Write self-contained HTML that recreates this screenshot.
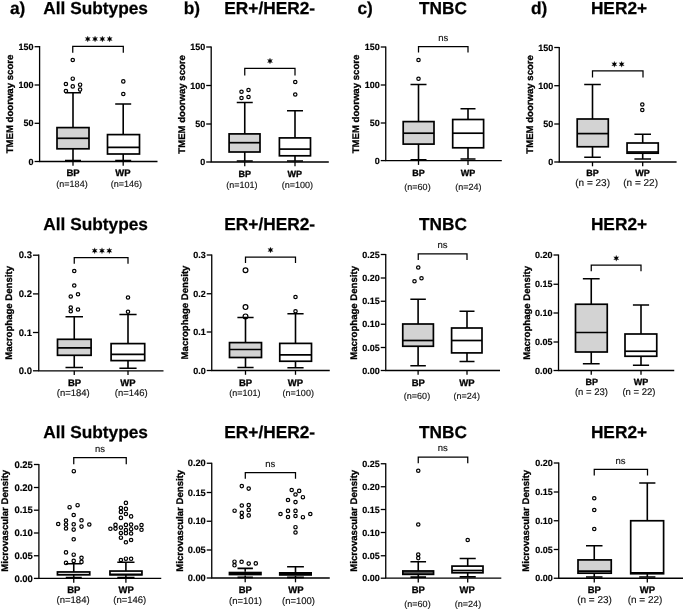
<!DOCTYPE html>
<html><head><meta charset="utf-8"><style>
html,body{margin:0;padding:0;background:#fff;}
svg{display:block;will-change:transform;}
text{font-family:"Liberation Sans", sans-serif;fill:#000;text-rendering:geometricPrecision;}
.tt{font-weight:bold;stroke:#000;stroke-width:0.25px;}
.yl,.xl{stroke:#000;stroke-width:0.3px;}
.tk{stroke:#000;stroke-width:0.15px;}
.nl,.ns{stroke:#111;stroke-width:0.15px;}
.tk{font-weight:bold;}
.yl{font-weight:bold;}
.xl{font-weight:bold;}
.nl{font-weight:normal;fill:#111;}
.ns{font-weight:normal;fill:#111;}
.ax{fill:none;stroke:#000;stroke-width:1.3;}
.wh{fill:none;stroke:#000;stroke-width:1.6;}
.bx{stroke:#000;stroke-width:1.7;}
path.bx{fill:none;}
.br{fill:none;stroke:#000;stroke-width:1.25;}
.oc{fill:none;stroke:#000;stroke-width:1.2;}
</style></head><body>
<svg width="685" height="611" viewBox="0 0 685 611">
<g id="a1"><path d="M39.6 46.1V161.5H157.5" class="ax"/><path d="M34.6 46.7H39.6" class="ax"/><text x="33.6" y="49.8" class="tk" font-size="9" text-anchor="end">150</text><path d="M34.6 85H39.6" class="ax"/><text x="33.6" y="88.11" class="tk" font-size="9" text-anchor="end">100</text><path d="M34.6 123.3H39.6" class="ax"/><text x="33.6" y="126.41" class="tk" font-size="9" text-anchor="end">50</text><path d="M34.6 161.5H39.6" class="ax"/><text x="33.6" y="164.6" class="tk" font-size="9" text-anchor="end">0</text><path d="M73 161.5v4.3" class="ax"/><path d="M123.2 161.5v4.3" class="ax"/><path d="M73 92.8V127.6M73 148.8V160.5M65 92.8H81M65 160.5H81" class="wh"/><rect x="57" y="127.6" width="32" height="21.2" fill="#d3d3d3" class="bx"/><path d="M57 138.3H89" class="bx"/><circle cx="72.75" cy="60" r="1.7" class="oc" stroke-width="1.2"/><circle cx="72.75" cy="78.7" r="1.7" class="oc" stroke-width="1.2"/><circle cx="65.9" cy="84" r="1.7" class="oc" stroke-width="1.2"/><circle cx="72.75" cy="86.4" r="1.7" class="oc" stroke-width="1.2"/><circle cx="80.1" cy="84.7" r="1.7" class="oc" stroke-width="1.2"/><circle cx="65.9" cy="91" r="1.7" class="oc" stroke-width="1.2"/><circle cx="80.1" cy="89.6" r="1.7" class="oc" stroke-width="1.2"/><path d="M123.2 104V134.6M123.2 154V160.5M115.2 104H131.2M115.2 160.5H131.2" class="wh"/><rect x="107.5" y="134.6" width="32" height="19.4" fill="#fff" class="bx"/><path d="M107.5 147.4H139.5" class="bx"/><circle cx="123.3" cy="81.4" r="1.7" class="oc" stroke-width="1.2"/><circle cx="123.3" cy="94" r="1.7" class="oc" stroke-width="1.2"/><path d="M72.75 52.8V46.35H123.3V52.8" class="br"/><g transform="translate(87.75,39)"><polygon points="0.00,-3.00 0.65,-1.13 2.60,-1.50 1.30,0.00 2.60,1.50 0.65,1.13 0.00,3.00 -0.65,1.13 -2.60,1.50 -1.30,0.00 -2.60,-1.50 -0.65,-1.13" fill="#000" stroke="#000" stroke-width="0.2" stroke-linejoin="round"/></g><g transform="translate(95.05,39)"><polygon points="0.00,-3.00 0.65,-1.13 2.60,-1.50 1.30,0.00 2.60,1.50 0.65,1.13 0.00,3.00 -0.65,1.13 -2.60,1.50 -1.30,0.00 -2.60,-1.50 -0.65,-1.13" fill="#000" stroke="#000" stroke-width="0.2" stroke-linejoin="round"/></g><g transform="translate(102.35,39)"><polygon points="0.00,-3.00 0.65,-1.13 2.60,-1.50 1.30,0.00 2.60,1.50 0.65,1.13 0.00,3.00 -0.65,1.13 -2.60,1.50 -1.30,0.00 -2.60,-1.50 -0.65,-1.13" fill="#000" stroke="#000" stroke-width="0.2" stroke-linejoin="round"/></g><g transform="translate(109.65,39)"><polygon points="0.00,-3.00 0.65,-1.13 2.60,-1.50 1.30,0.00 2.60,1.50 0.65,1.13 0.00,3.00 -0.65,1.13 -2.60,1.50 -1.30,0.00 -2.60,-1.50 -0.65,-1.13" fill="#000" stroke="#000" stroke-width="0.2" stroke-linejoin="round"/></g><text transform="translate(12.9,104) rotate(-90) scale(1,1)" class="yl" font-size="9.6" text-anchor="middle">TMEM doorway score</text><text x="73" y="176.2" class="xl" font-size="9.5" text-anchor="middle">BP</text><text x="123" y="176.2" class="xl" font-size="9.5" text-anchor="middle">WP</text><text x="72" y="186.5" class="nl" font-size="9" text-anchor="middle">(n=184)</text><text x="126.4" y="186.5" class="nl" font-size="9" text-anchor="middle">(n=146)</text></g><g id="b1"><path d="M211.2 46.4V162H328.8" class="ax"/><path d="M206.2 47H211.2" class="ax"/><text x="205.2" y="50.1" class="tk" font-size="9" text-anchor="end">150</text><path d="M206.2 85.5H211.2" class="ax"/><text x="205.2" y="88.61" class="tk" font-size="9" text-anchor="end">100</text><path d="M206.2 124H211.2" class="ax"/><text x="205.2" y="127.11" class="tk" font-size="9" text-anchor="end">50</text><path d="M206.2 162H211.2" class="ax"/><text x="205.2" y="165.1" class="tk" font-size="9" text-anchor="end">0</text><path d="M244.75 162v4.3" class="ax"/><path d="M295 162v4.3" class="ax"/><path d="M244.75 102.5V133.9M244.75 152V161M236.75 102.5H252.75M236.75 161H252.75" class="wh"/><rect x="229.1" y="133.9" width="30.9" height="18.1" fill="#d3d3d3" class="bx"/><path d="M229.1 142.7H260" class="bx"/><circle cx="241.5" cy="91.75" r="1.7" class="oc" stroke-width="1.2"/><circle cx="248.5" cy="90" r="1.7" class="oc" stroke-width="1.2"/><circle cx="241.5" cy="98" r="1.7" class="oc" stroke-width="1.2"/><circle cx="248.5" cy="97" r="1.7" class="oc" stroke-width="1.2"/><path d="M295 110.75V137.9M295 155.8V161M287 110.75H303M287 161H303" class="wh"/><rect x="279.4" y="137.9" width="31.1" height="17.9" fill="#fff" class="bx"/><path d="M279.4 149.1H310.5" class="bx"/><circle cx="295.25" cy="82" r="1.7" class="oc" stroke-width="1.2"/><circle cx="295.25" cy="94.5" r="1.7" class="oc" stroke-width="1.2"/><path d="M244.75 75.5V68.25H295V75.5" class="br"/><g transform="translate(270,61)"><polygon points="0.00,-3.00 0.65,-1.13 2.60,-1.50 1.30,0.00 2.60,1.50 0.65,1.13 0.00,3.00 -0.65,1.13 -2.60,1.50 -1.30,0.00 -2.60,-1.50 -0.65,-1.13" fill="#000" stroke="#000" stroke-width="0.2" stroke-linejoin="round"/></g><text transform="translate(184.8,104.4) rotate(-90) scale(1,1)" class="yl" font-size="9.6" text-anchor="middle">TMEM doorway score</text><text x="244.7" y="177.1" class="xl" font-size="9" text-anchor="middle">BP</text><text x="294.7" y="177.1" class="xl" font-size="9" text-anchor="middle">WP</text><text x="241.8" y="188.3" class="nl" font-size="9" text-anchor="middle">(n=101)</text><text x="297.4" y="188.3" class="nl" font-size="9" text-anchor="middle">(n=100)</text></g><g id="c1"><path d="M385.75 46.4V160.6H501.8" class="ax"/><path d="M380.75 47H385.75" class="ax"/><text x="379.75" y="50.1" class="tk" font-size="9" text-anchor="end">150</text><path d="M380.75 85H385.75" class="ax"/><text x="379.75" y="88.11" class="tk" font-size="9" text-anchor="end">100</text><path d="M380.75 123H385.75" class="ax"/><text x="379.75" y="126.11" class="tk" font-size="9" text-anchor="end">50</text><path d="M380.75 160.6H385.75" class="ax"/><text x="379.75" y="163.7" class="tk" font-size="9" text-anchor="end">0</text><path d="M418.5 160.6v4.3" class="ax"/><path d="M468 160.6v4.3" class="ax"/><path d="M418.5 84.5V121.6M418.5 144.1V159.75M410.5 84.5H426.5M410.5 159.75H426.5" class="wh"/><rect x="403.2" y="121.6" width="30.8" height="22.5" fill="#d3d3d3" class="bx"/><path d="M403.2 133.2H434" class="bx"/><circle cx="418.5" cy="60" r="1.7" class="oc" stroke-width="1.2"/><circle cx="418.5" cy="78.75" r="1.7" class="oc" stroke-width="1.2"/><path d="M468 108.75V119.5M468 147.8V159M460.5 108.75H475.5M460.5 159H475.5" class="wh"/><rect x="452.7" y="119.5" width="30.9" height="28.3" fill="#fff" class="bx"/><path d="M452.7 133.2H483.6" class="bx"/><path d="M418.5 52.5V46.5H468V52.5" class="br"/><text x="443.25" y="41.22" class="ns" font-size="9.5" text-anchor="middle">ns</text><text transform="translate(359.3,104) rotate(-90) scale(1,1)" class="yl" font-size="9.6" text-anchor="middle">TMEM doorway score</text><text x="418.5" y="176.1" class="xl" font-size="9" text-anchor="middle">BP</text><text x="468" y="176.1" class="xl" font-size="9" text-anchor="middle">WP</text><text x="417.5" y="189.8" class="nl" font-size="9" text-anchor="middle">(n=60)</text><text x="468.3" y="189.8" class="nl" font-size="9" text-anchor="middle">(n=24)</text></g><g id="d1"><path d="M559.25 46.9V162H676.6" class="ax"/><path d="M554.25 47.5H559.25" class="ax"/><text x="553.25" y="50.6" class="tk" font-size="9" text-anchor="end">150</text><path d="M554.25 85.7H559.25" class="ax"/><text x="553.25" y="88.81" class="tk" font-size="9" text-anchor="end">100</text><path d="M554.25 124H559.25" class="ax"/><text x="553.25" y="127.11" class="tk" font-size="9" text-anchor="end">50</text><path d="M554.25 162H559.25" class="ax"/><text x="553.25" y="165.1" class="tk" font-size="9" text-anchor="end">0</text><path d="M592.5 162v4.3" class="ax"/><path d="M642.7 162v4.3" class="ax"/><path d="M592.5 84.5V119M592.5 146.75V157.25M584.2 84.5H600.8M584.2 157.25H600.8" class="wh"/><rect x="577.2" y="119" width="31.1" height="27.75" fill="#d3d3d3" class="bx"/><path d="M577.2 133.6H608.3" class="bx"/><path d="M642.7 134.25V143M642.7 153.2V159M634.4 134.25H651M634.4 159H651" class="wh"/><rect x="627.05" y="143" width="31.2" height="10.2" fill="#fff" class="bx"/><path d="M627.05 152H658.25" class="bx"/><circle cx="642.3" cy="104.5" r="1.7" class="oc" stroke-width="1.2"/><circle cx="642.3" cy="110" r="1.7" class="oc" stroke-width="1.2"/><path d="M592.5 77.5V70.75H643V77.5" class="br"/><g transform="translate(614.35,64.25)"><polygon points="0.00,-3.00 0.65,-1.13 2.60,-1.50 1.30,0.00 2.60,1.50 0.65,1.13 0.00,3.00 -0.65,1.13 -2.60,1.50 -1.30,0.00 -2.60,-1.50 -0.65,-1.13" fill="#000" stroke="#000" stroke-width="0.2" stroke-linejoin="round"/></g><g transform="translate(621.65,64.25)"><polygon points="0.00,-3.00 0.65,-1.13 2.60,-1.50 1.30,0.00 2.60,1.50 0.65,1.13 0.00,3.00 -0.65,1.13 -2.60,1.50 -1.30,0.00 -2.60,-1.50 -0.65,-1.13" fill="#000" stroke="#000" stroke-width="0.2" stroke-linejoin="round"/></g><text transform="translate(532.8,104.4) rotate(-90) scale(1,1)" class="yl" font-size="9.6" text-anchor="middle">TMEM doorway score</text><text x="592.6" y="175.8" class="xl" font-size="9" text-anchor="middle">BP</text><text x="642.4" y="175.8" class="xl" font-size="9" text-anchor="middle">WP</text><text x="592.6" y="186" class="nl" font-size="10" text-anchor="middle">(n = 23)</text><text x="640.6" y="186" class="nl" font-size="10" text-anchor="middle">(n = 22)</text></g><g id="a2"><path d="M38.75 254.6V370.8H163.5" class="ax"/><path d="M32.95 255.2H38.75" class="ax"/><text x="31.95" y="258.48" class="tk" font-size="9.5" text-anchor="end">0.3</text><path d="M32.95 293.9H38.75" class="ax"/><text x="31.95" y="297.18" class="tk" font-size="9.5" text-anchor="end">0.2</text><path d="M32.95 332.5H38.75" class="ax"/><text x="31.95" y="335.78" class="tk" font-size="9.5" text-anchor="end">0.1</text><path d="M32.95 370.8H38.75" class="ax"/><text x="31.95" y="374.08" class="tk" font-size="9.5" text-anchor="end">0.0</text><path d="M74.25 370.8v4.3" class="ax"/><path d="M128 370.8v4.3" class="ax"/><path d="M74.25 316.75V339.3M74.25 355.3V367.5M65.5 316.75H83M65.5 367.5H83" class="wh"/><rect x="57.5" y="339.3" width="33.6" height="16" fill="#d3d3d3" class="bx"/><path d="M57.5 347.8H91.1" class="bx"/><circle cx="74.25" cy="271" r="1.7" class="oc" stroke-width="1.2"/><circle cx="74.25" cy="285.5" r="1.7" class="oc" stroke-width="1.2"/><circle cx="70.75" cy="296.5" r="1.7" class="oc" stroke-width="1.2"/><circle cx="78" cy="294.25" r="1.7" class="oc" stroke-width="1.2"/><circle cx="70.75" cy="307.5" r="1.7" class="oc" stroke-width="1.2"/><circle cx="70.75" cy="311.25" r="1.7" class="oc" stroke-width="1.2"/><circle cx="78" cy="309.5" r="1.7" class="oc" stroke-width="1.2"/><path d="M128 314.5V343.6M128 360.6V368.25M119.4 314.5H136.6M119.4 368.25H136.6" class="wh"/><rect x="111.1" y="343.6" width="33.6" height="17" fill="#fff" class="bx"/><path d="M111.1 354.3H144.7" class="bx"/><circle cx="128" cy="297.5" r="1.7" class="oc" stroke-width="1.2"/><circle cx="128" cy="311.75" r="1.7" class="oc" stroke-width="1.2"/><path d="M74.25 263.75V257.5H128V263.75" class="br"/><g transform="translate(94.7,250.75)"><polygon points="0.00,-3.00 0.65,-1.13 2.60,-1.50 1.30,0.00 2.60,1.50 0.65,1.13 0.00,3.00 -0.65,1.13 -2.60,1.50 -1.30,0.00 -2.60,-1.50 -0.65,-1.13" fill="#000" stroke="#000" stroke-width="0.2" stroke-linejoin="round"/></g><g transform="translate(102,250.75)"><polygon points="0.00,-3.00 0.65,-1.13 2.60,-1.50 1.30,0.00 2.60,1.50 0.65,1.13 0.00,3.00 -0.65,1.13 -2.60,1.50 -1.30,0.00 -2.60,-1.50 -0.65,-1.13" fill="#000" stroke="#000" stroke-width="0.2" stroke-linejoin="round"/></g><g transform="translate(109.3,250.75)"><polygon points="0.00,-3.00 0.65,-1.13 2.60,-1.50 1.30,0.00 2.60,1.50 0.65,1.13 0.00,3.00 -0.65,1.13 -2.60,1.50 -1.30,0.00 -2.60,-1.50 -0.65,-1.13" fill="#000" stroke="#000" stroke-width="0.2" stroke-linejoin="round"/></g><text transform="translate(12,312.9) rotate(-90) scale(1,1)" class="yl" font-size="9.6" text-anchor="middle">Macrophage Density</text><text x="74.5" y="385.75" class="xl" font-size="9.5" text-anchor="middle">BP</text><text x="128" y="385.75" class="xl" font-size="9.5" text-anchor="middle">WP</text><text x="73.25" y="396.25" class="nl" font-size="9.5" text-anchor="middle">(n=184)</text><text x="131.25" y="396.25" class="nl" font-size="9.5" text-anchor="middle">(n=146)</text></g><g id="b2"><path d="M211.75 254.4V370.5H329.75" class="ax"/><path d="M206.75 255H211.75" class="ax"/><text x="205.75" y="258.11" class="tk" font-size="9" text-anchor="end">0.3</text><path d="M206.75 293.75H211.75" class="ax"/><text x="205.75" y="296.86" class="tk" font-size="9" text-anchor="end">0.2</text><path d="M206.75 332H211.75" class="ax"/><text x="205.75" y="335.11" class="tk" font-size="9" text-anchor="end">0.1</text><path d="M206.75 370.5H211.75" class="ax"/><text x="205.75" y="373.61" class="tk" font-size="9" text-anchor="end">0.0</text><path d="M245.5 370.5v4.3" class="ax"/><path d="M295.5 370.5v4.3" class="ax"/><path d="M245.5 317.5V342.6M245.5 357.5V367.5M237.4 317.5H253.6M237.4 367.5H253.6" class="wh"/><rect x="229.5" y="342.6" width="32" height="14.9" fill="#d3d3d3" class="bx"/><path d="M229.5 349.5H261.5" class="bx"/><circle cx="245.5" cy="270.3" r="2.4" class="oc" stroke-width="1.05"/><circle cx="245.5" cy="307.1" r="2.4" class="oc" stroke-width="1.05"/><circle cx="245.5" cy="316.4" r="2.4" class="oc" stroke-width="1.05"/><path d="M295.5 313.75V343.4M295.5 361.25V367.75M287.4 313.75H303.6M287.4 367.75H303.6" class="wh"/><rect x="279.75" y="343.4" width="31.75" height="17.85" fill="#fff" class="bx"/><path d="M279.75 354.9H311.5" class="bx"/><circle cx="295.5" cy="297" r="1.7" class="oc" stroke-width="1.2"/><circle cx="295.5" cy="311.25" r="1.7" class="oc" stroke-width="1.2"/><path d="M245.5 263V257H295.5V263" class="br"/><g transform="translate(270.5,250)"><polygon points="0.00,-3.00 0.65,-1.13 2.60,-1.50 1.30,0.00 2.60,1.50 0.65,1.13 0.00,3.00 -0.65,1.13 -2.60,1.50 -1.30,0.00 -2.60,-1.50 -0.65,-1.13" fill="#000" stroke="#000" stroke-width="0.2" stroke-linejoin="round"/></g><text transform="translate(187.8,312.5) rotate(-90) scale(1,1)" class="yl" font-size="9.6" text-anchor="middle">Macrophage Density</text><text x="245.5" y="385.75" class="xl" font-size="9.5" text-anchor="middle">BP</text><text x="295.5" y="385.75" class="xl" font-size="9.5" text-anchor="middle">WP</text><text x="244.9" y="396.25" class="nl" font-size="9" text-anchor="middle">(n=101)</text><text x="298.25" y="396.25" class="nl" font-size="9" text-anchor="middle">(n=100)</text></g><g id="c2"><path d="M385.75 253.9V370.5H500" class="ax"/><path d="M380.75 254.5H385.75" class="ax"/><text x="379.75" y="257.61" class="tk" font-size="9" text-anchor="end">0.25</text><path d="M380.75 278H385.75" class="ax"/><text x="379.75" y="281.11" class="tk" font-size="9" text-anchor="end">0.20</text><path d="M380.75 301.25H385.75" class="ax"/><text x="379.75" y="304.36" class="tk" font-size="9" text-anchor="end">0.15</text><path d="M380.75 324.25H385.75" class="ax"/><text x="379.75" y="327.36" class="tk" font-size="9" text-anchor="end">0.10</text><path d="M380.75 347.5H385.75" class="ax"/><text x="379.75" y="350.61" class="tk" font-size="9" text-anchor="end">0.05</text><path d="M380.75 370.5H385.75" class="ax"/><text x="379.75" y="373.61" class="tk" font-size="9" text-anchor="end">0.00</text><path d="M418.1 370.5v4.3" class="ax"/><path d="M467 370.5v4.3" class="ax"/><path d="M418.1 299.25V324M418.1 346.25V365.75M410.35 299.25H425.85M410.35 365.75H425.85" class="wh"/><rect x="402.75" y="324" width="30.65" height="22.25" fill="#d3d3d3" class="bx"/><path d="M402.75 340.5H433.4" class="bx"/><circle cx="418.25" cy="267.5" r="1.7" class="oc" stroke-width="1.2"/><circle cx="414.5" cy="281.25" r="1.7" class="oc" stroke-width="1.2"/><circle cx="421.5" cy="278.25" r="1.7" class="oc" stroke-width="1.2"/><path d="M467 311.25V328M467 352.9V361.5M459.5 311.25H474.5M459.5 361.5H474.5" class="wh"/><rect x="451.6" y="328" width="30.4" height="24.9" fill="#fff" class="bx"/><path d="M451.6 340.5H482" class="bx"/><path d="M418.25 260V253.75H467V260" class="br"/><text x="442.5" y="248.22" class="ns" font-size="9.5" text-anchor="middle">ns</text><text transform="translate(357.3,312.9) rotate(-90) scale(1,1)" class="yl" font-size="9.6" text-anchor="middle">Macrophage Density</text><text x="418.25" y="385.75" class="xl" font-size="9.5" text-anchor="middle">BP</text><text x="467" y="385.75" class="xl" font-size="9.5" text-anchor="middle">WP</text><text x="417" y="399" class="nl" font-size="9" text-anchor="middle">(n=60)</text><text x="466.75" y="399" class="nl" font-size="9" text-anchor="middle">(n=24)</text></g><g id="d2"><path d="M558.5 254.4V370.5H674.25" class="ax"/><path d="M553.5 255H558.5" class="ax"/><text x="552.5" y="258.11" class="tk" font-size="9" text-anchor="end">0.20</text><path d="M553.5 284.25H558.5" class="ax"/><text x="552.5" y="287.36" class="tk" font-size="9" text-anchor="end">0.15</text><path d="M553.5 313H558.5" class="ax"/><text x="552.5" y="316.11" class="tk" font-size="9" text-anchor="end">0.10</text><path d="M553.5 342H558.5" class="ax"/><text x="552.5" y="345.11" class="tk" font-size="9" text-anchor="end">0.05</text><path d="M553.5 370.5H558.5" class="ax"/><text x="552.5" y="373.61" class="tk" font-size="9" text-anchor="end">0.00</text><path d="M591.25 370.5v4.3" class="ax"/><path d="M641 370.5v4.3" class="ax"/><path d="M591.25 278.75V304.25M591.25 352V363.75M582.85 278.75H599.65M582.85 363.75H599.65" class="wh"/><rect x="575.5" y="304.25" width="31.75" height="47.75" fill="#d3d3d3" class="bx"/><path d="M575.5 332.5H607.25" class="bx"/><path d="M641 305V334M641 356.25V365.25M632.9 305H649.1M632.9 365.25H649.1" class="wh"/><rect x="625" y="334" width="31.75" height="22.25" fill="#fff" class="bx"/><path d="M625 351.25H656.75" class="bx"/><path d="M591.25 271.25V265H641V271.25" class="br"/><g transform="translate(616.25,258.25)"><polygon points="0.00,-3.00 0.65,-1.13 2.60,-1.50 1.30,0.00 2.60,1.50 0.65,1.13 0.00,3.00 -0.65,1.13 -2.60,1.50 -1.30,0.00 -2.60,-1.50 -0.65,-1.13" fill="#000" stroke="#000" stroke-width="0.2" stroke-linejoin="round"/></g><text transform="translate(529.8,312.9) rotate(-90) scale(1,1)" class="yl" font-size="9.6" text-anchor="middle">Macrophage Density</text><text x="591.75" y="385" class="xl" font-size="9" text-anchor="middle">BP</text><text x="641" y="385" class="xl" font-size="9" text-anchor="middle">WP</text><text x="591.4" y="394.5" class="nl" font-size="9.5" text-anchor="middle">(n = 23)</text><text x="638.9" y="394.5" class="nl" font-size="9.5" text-anchor="middle">(n = 22)</text></g><g id="a3"><path d="M38.9 463.9V578.4H161.25" class="ax"/><path d="M33.9 464.5H38.9" class="ax"/><text x="32.9" y="467.78" class="tk" font-size="9.5" text-anchor="end">0.25</text><path d="M33.9 487.5H38.9" class="ax"/><text x="32.9" y="490.78" class="tk" font-size="9.5" text-anchor="end">0.20</text><path d="M33.9 510.2H38.9" class="ax"/><text x="32.9" y="513.48" class="tk" font-size="9.5" text-anchor="end">0.15</text><path d="M33.9 533H38.9" class="ax"/><text x="32.9" y="536.28" class="tk" font-size="9.5" text-anchor="end">0.10</text><path d="M33.9 555.75H38.9" class="ax"/><text x="32.9" y="559.03" class="tk" font-size="9.5" text-anchor="end">0.05</text><path d="M33.9 578.4H38.9" class="ax"/><text x="32.9" y="581.68" class="tk" font-size="9.5" text-anchor="end">0.00</text><path d="M73.75 578.4v4.3" class="ax"/><path d="M125.9 578.4v4.3" class="ax"/><path d="M73.75 563.7V571.95M73.75 574.85V577.6M65.75 563.7H81.75M65.75 577.6H81.75" class="wh"/><rect x="57.45" y="571.95" width="32.3" height="2.9" fill="#d3d3d3" class="bx"/><circle cx="73.8" cy="471.2" r="1.7" class="oc" stroke-width="1.2"/><circle cx="69.6" cy="507.2" r="1.7" class="oc" stroke-width="1.2"/><circle cx="77.6" cy="505.2" r="1.7" class="oc" stroke-width="1.2"/><circle cx="73.7" cy="515" r="1.7" class="oc" stroke-width="1.2"/><circle cx="66" cy="520.5" r="1.7" class="oc" stroke-width="1.2"/><circle cx="81.5" cy="520.3" r="1.7" class="oc" stroke-width="1.2"/><circle cx="58.2" cy="524" r="1.7" class="oc" stroke-width="1.2"/><circle cx="66" cy="524.5" r="1.7" class="oc" stroke-width="1.2"/><circle cx="73.7" cy="524.3" r="1.7" class="oc" stroke-width="1.2"/><circle cx="89.3" cy="524.5" r="1.7" class="oc" stroke-width="1.2"/><circle cx="66" cy="528.5" r="1.7" class="oc" stroke-width="1.2"/><circle cx="81.5" cy="526.6" r="1.7" class="oc" stroke-width="1.2"/><circle cx="73.7" cy="529.6" r="1.7" class="oc" stroke-width="1.2"/><circle cx="73.7" cy="539.3" r="1.7" class="oc" stroke-width="1.2"/><circle cx="66" cy="552.4" r="1.7" class="oc" stroke-width="1.2"/><circle cx="73.7" cy="554.7" r="1.7" class="oc" stroke-width="1.2"/><circle cx="81.5" cy="557.8" r="1.7" class="oc" stroke-width="1.2"/><circle cx="73.7" cy="560.9" r="1.7" class="oc" stroke-width="1.2"/><circle cx="66" cy="562.9" r="1.7" class="oc" stroke-width="1.2"/><circle cx="81.5" cy="561.9" r="1.7" class="oc" stroke-width="1.2"/><path d="M125.9 562.3V571.05M125.9 574.85V577.6M117.3 562.3H134.5M117.3 577.6H134.5" class="wh"/><rect x="109.95" y="571.05" width="32" height="3.8" fill="#fff" class="bx"/><path d="M109.95 574.3H141.95" class="bx"/><circle cx="125.9" cy="502.9" r="1.7" class="oc" stroke-width="1.2"/><circle cx="120.9" cy="508.1" r="1.7" class="oc" stroke-width="1.2"/><circle cx="125.9" cy="508.9" r="1.7" class="oc" stroke-width="1.2"/><circle cx="120.9" cy="511.9" r="1.7" class="oc" stroke-width="1.2"/><circle cx="125.9" cy="514" r="1.7" class="oc" stroke-width="1.2"/><circle cx="131.1" cy="516.4" r="1.7" class="oc" stroke-width="1.2"/><circle cx="120.9" cy="517.9" r="1.7" class="oc" stroke-width="1.2"/><circle cx="115.5" cy="524.9" r="1.7" class="oc" stroke-width="1.2"/><circle cx="125.9" cy="524.9" r="1.7" class="oc" stroke-width="1.2"/><circle cx="131.1" cy="524.6" r="1.7" class="oc" stroke-width="1.2"/><circle cx="141.5" cy="525" r="1.7" class="oc" stroke-width="1.2"/><circle cx="110.4" cy="528.8" r="1.7" class="oc" stroke-width="1.2"/><circle cx="115.5" cy="528.6" r="1.7" class="oc" stroke-width="1.2"/><circle cx="120.9" cy="527.6" r="1.7" class="oc" stroke-width="1.2"/><circle cx="125.9" cy="530" r="1.7" class="oc" stroke-width="1.2"/><circle cx="131.1" cy="529.2" r="1.7" class="oc" stroke-width="1.2"/><circle cx="136.3" cy="527.6" r="1.7" class="oc" stroke-width="1.2"/><circle cx="141.5" cy="529.8" r="1.7" class="oc" stroke-width="1.2"/><circle cx="120.9" cy="533" r="1.7" class="oc" stroke-width="1.2"/><circle cx="125.9" cy="533.2" r="1.7" class="oc" stroke-width="1.2"/><circle cx="131.1" cy="533.5" r="1.7" class="oc" stroke-width="1.2"/><circle cx="120.9" cy="537.7" r="1.7" class="oc" stroke-width="1.2"/><circle cx="125.9" cy="542.3" r="1.7" class="oc" stroke-width="1.2"/><circle cx="131.1" cy="540" r="1.7" class="oc" stroke-width="1.2"/><circle cx="120.9" cy="560" r="1.7" class="oc" stroke-width="1.2"/><circle cx="125.9" cy="558.7" r="1.7" class="oc" stroke-width="1.2"/><circle cx="131.1" cy="558.8" r="1.7" class="oc" stroke-width="1.2"/><path d="M73.75 464.25V457.5H126.25V464.25" class="br"/><text x="100" y="452.47" class="ns" font-size="9.5" text-anchor="middle">ns</text><text transform="translate(8.3,520.75) rotate(-90) scale(1,1)" class="yl" font-size="9.6" text-anchor="middle">Microvascular Density</text><text x="73.75" y="593" class="xl" font-size="9.5" text-anchor="middle">BP</text><text x="126.25" y="593" class="xl" font-size="9.5" text-anchor="middle">WP</text><text x="73.1" y="603.25" class="nl" font-size="9.5" text-anchor="middle">(n=184)</text><text x="129.75" y="603.25" class="nl" font-size="9.5" text-anchor="middle">(n=146)</text></g><g id="b3"><path d="M211.75 462.65V578H329.75" class="ax"/><path d="M206.75 463.25H211.75" class="ax"/><text x="205.75" y="466.44" class="tk" font-size="9.25" text-anchor="end">0.20</text><path d="M206.75 492.5H211.75" class="ax"/><text x="205.75" y="495.69" class="tk" font-size="9.25" text-anchor="end">0.15</text><path d="M206.75 521.25H211.75" class="ax"/><text x="205.75" y="524.44" class="tk" font-size="9.25" text-anchor="end">0.10</text><path d="M206.75 550H211.75" class="ax"/><text x="205.75" y="553.19" class="tk" font-size="9.25" text-anchor="end">0.05</text><path d="M206.75 578H211.75" class="ax"/><text x="205.75" y="581.19" class="tk" font-size="9.25" text-anchor="end">0.00</text><path d="M245.2 578v4.3" class="ax"/><path d="M295.5 578v4.3" class="ax"/><path d="M245.2 568.4V571.7M245.2 575.4V577.4M237.5 568.4H252.9M237.5 577.4H252.9" class="wh"/><rect x="228.6" y="571.7" width="33.2" height="3.7" fill="#000"/><circle cx="241.8" cy="486.1" r="1.7" class="oc" stroke-width="1.2"/><circle cx="248.7" cy="488.6" r="1.7" class="oc" stroke-width="1.2"/><circle cx="241.8" cy="505.5" r="1.7" class="oc" stroke-width="1.2"/><circle cx="248.7" cy="505.1" r="1.7" class="oc" stroke-width="1.2"/><circle cx="234.6" cy="510.7" r="1.7" class="oc" stroke-width="1.2"/><circle cx="248.7" cy="509.9" r="1.7" class="oc" stroke-width="1.2"/><circle cx="241.8" cy="512.9" r="1.7" class="oc" stroke-width="1.2"/><circle cx="248.7" cy="515.4" r="1.7" class="oc" stroke-width="1.2"/><circle cx="241.8" cy="517" r="1.7" class="oc" stroke-width="1.2"/><circle cx="234.5" cy="561.7" r="1.7" class="oc" stroke-width="1.2"/><circle cx="234.5" cy="565.3" r="1.7" class="oc" stroke-width="1.2"/><circle cx="241.6" cy="561.8" r="1.7" class="oc" stroke-width="1.2"/><circle cx="248.7" cy="563.6" r="1.7" class="oc" stroke-width="1.2"/><circle cx="255.8" cy="563.4" r="1.7" class="oc" stroke-width="1.2"/><path d="M295.5 566.8V572M295.5 575.8V577.4M287.1 566.8H303.9M287.1 577.4H303.9" class="wh"/><rect x="278.9" y="572" width="33.1" height="3.8" fill="#000"/><circle cx="291.7" cy="490" r="1.7" class="oc" stroke-width="1.2"/><circle cx="299.2" cy="490.9" r="1.7" class="oc" stroke-width="1.2"/><circle cx="295.5" cy="494.5" r="1.7" class="oc" stroke-width="1.2"/><circle cx="302.9" cy="497.2" r="1.7" class="oc" stroke-width="1.2"/><circle cx="288" cy="500" r="1.7" class="oc" stroke-width="1.2"/><circle cx="295.5" cy="502.1" r="1.7" class="oc" stroke-width="1.2"/><circle cx="288" cy="510.9" r="1.7" class="oc" stroke-width="1.2"/><circle cx="295.5" cy="510.9" r="1.7" class="oc" stroke-width="1.2"/><circle cx="280.5" cy="514" r="1.7" class="oc" stroke-width="1.2"/><circle cx="288" cy="517" r="1.7" class="oc" stroke-width="1.2"/><circle cx="295.5" cy="516" r="1.7" class="oc" stroke-width="1.2"/><circle cx="302.9" cy="517.2" r="1.7" class="oc" stroke-width="1.2"/><circle cx="310.3" cy="514" r="1.7" class="oc" stroke-width="1.2"/><circle cx="295.5" cy="527.2" r="1.7" class="oc" stroke-width="1.2"/><circle cx="295.5" cy="532.5" r="1.7" class="oc" stroke-width="1.2"/><path d="M245.3 478.75V472.5H295.5V478.75" class="br"/><text x="270.25" y="466.97" class="ns" font-size="9.5" text-anchor="middle">ns</text><text transform="translate(182.8,520.75) rotate(-90) scale(1,1)" class="yl" font-size="9.6" text-anchor="middle">Microvascular Density</text><text x="245.25" y="593" class="xl" font-size="9.5" text-anchor="middle">BP</text><text x="296" y="593" class="xl" font-size="9.5" text-anchor="middle">WP</text><text x="245.5" y="603.75" class="nl" font-size="9.5" text-anchor="middle">(n=101)</text><text x="298.5" y="603.75" class="nl" font-size="9.5" text-anchor="middle">(n=100)</text></g><g id="c3"><path d="M385.75 463.15V578.2H501.3" class="ax"/><path d="M380.75 463.75H385.75" class="ax"/><text x="379.75" y="466.86" class="tk" font-size="9" text-anchor="end">0.25</text><path d="M380.75 486.75H385.75" class="ax"/><text x="379.75" y="489.86" class="tk" font-size="9" text-anchor="end">0.20</text><path d="M380.75 509.5H385.75" class="ax"/><text x="379.75" y="512.61" class="tk" font-size="9" text-anchor="end">0.15</text><path d="M380.75 532.5H385.75" class="ax"/><text x="379.75" y="535.61" class="tk" font-size="9" text-anchor="end">0.10</text><path d="M380.75 555.75H385.75" class="ax"/><text x="379.75" y="558.86" class="tk" font-size="9" text-anchor="end">0.05</text><path d="M380.75 578.2H385.75" class="ax"/><text x="379.75" y="581.31" class="tk" font-size="9" text-anchor="end">0.00</text><path d="M418.25 578.2v4.3" class="ax"/><path d="M467.7 578.2v4.3" class="ax"/><path d="M418.25 561.8V570.95M418.25 574.35V577.1M410.45 561.8H426.05M410.45 577.1H426.05" class="wh"/><rect x="402.85" y="570.95" width="30.7" height="3.4" fill="#555" class="bx"/><circle cx="418.25" cy="470.75" r="1.7" class="oc" stroke-width="1.2"/><circle cx="418.25" cy="524.5" r="1.7" class="oc" stroke-width="1.2"/><circle cx="418.25" cy="554.5" r="1.7" class="oc" stroke-width="1.2"/><circle cx="418.25" cy="558.1" r="1.7" class="oc" stroke-width="1.2"/><path d="M467.7 558.5V566.1M467.7 572.8V576.9M459.65 558.5H475.75M459.65 576.9H475.75" class="wh"/><rect x="452" y="566.1" width="31" height="6.7" fill="#fff" class="bx"/><path d="M452 570.5H483" class="bx"/><circle cx="467.7" cy="540" r="1.7" class="oc" stroke-width="1.2"/><path d="M418.25 463.25V457H467.75V463.25" class="br"/><text x="442.75" y="451.22" class="ns" font-size="9.5" text-anchor="middle">ns</text><text transform="translate(357.3,520.75) rotate(-90) scale(1,1)" class="yl" font-size="9.6" text-anchor="middle">Microvascular Density</text><text x="418.3" y="593.1" class="xl" font-size="9.5" text-anchor="middle">BP</text><text x="467.2" y="593.1" class="xl" font-size="9.5" text-anchor="middle">WP</text><text x="417.5" y="606.9" class="nl" font-size="9" text-anchor="middle">(n=60)</text><text x="468" y="606.9" class="nl" font-size="9" text-anchor="middle">(n=24)</text></g><g id="d3"><path d="M558.75 462.4V578.25H683" class="ax"/><path d="M553.75 463H558.75" class="ax"/><text x="552.75" y="466.11" class="tk" font-size="9" text-anchor="end">0.20</text><path d="M553.75 492H558.75" class="ax"/><text x="552.75" y="495.11" class="tk" font-size="9" text-anchor="end">0.15</text><path d="M553.75 520.75H558.75" class="ax"/><text x="552.75" y="523.86" class="tk" font-size="9" text-anchor="end">0.10</text><path d="M553.75 549.5H558.75" class="ax"/><text x="552.75" y="552.61" class="tk" font-size="9" text-anchor="end">0.05</text><path d="M553.75 578.25H558.75" class="ax"/><text x="552.75" y="581.36" class="tk" font-size="9" text-anchor="end">0.00</text><path d="M594.25 578.25v4.3" class="ax"/><path d="M647.3 578.25v4.3" class="ax"/><path d="M594.25 545.75V559.9M594.25 573.2V577M586 545.75H602.5M586 577H602.5" class="wh"/><rect x="578" y="559.9" width="33.25" height="13.3" fill="#d3d3d3" class="bx"/><path d="M578 571.1H611.25" class="bx"/><circle cx="594.25" cy="498.25" r="1.7" class="oc" stroke-width="1.2"/><circle cx="594.25" cy="510" r="1.7" class="oc" stroke-width="1.2"/><circle cx="594.25" cy="529" r="1.7" class="oc" stroke-width="1.2"/><path d="M647.3 483V520.75M647.3 573.75V577M639.2 483H655.4M639.2 577H655.4" class="wh"/><rect x="630.7" y="520.75" width="32.9" height="53" fill="#fff" class="bx"/><path d="M630.7 572.9H663.6" class="bx"/><path d="M594.25 475.5V469.25H647.5V475.5" class="br"/><text x="620.5" y="463.72" class="ns" font-size="9.5" text-anchor="middle">ns</text><text transform="translate(528.8,520.75) rotate(-90) scale(1,1)" class="yl" font-size="9.6" text-anchor="middle">Microvascular Density</text><text x="594.25" y="592.5" class="xl" font-size="9.5" text-anchor="middle">BP</text><text x="647.5" y="592.5" class="xl" font-size="9.5" text-anchor="middle">WP</text><text x="594.5" y="602.5" class="nl" font-size="10" text-anchor="middle">(n = 23)</text><text x="645" y="602.5" class="nl" font-size="10" text-anchor="middle">(n = 22)</text></g><text x="10" y="14" class="tt" font-size="17.3">a)</text><text x="95.6" y="14" class="tt" font-size="17.3" text-anchor="middle">All Subtypes</text><text x="183.7" y="14" class="tt" font-size="17.3">b)</text><text x="269.7" y="14" class="tt" font-size="17.3" text-anchor="middle">ER+/HER2-</text><text x="357.5" y="14" class="tt" font-size="17.3">c)</text><text x="442.9" y="14" class="tt" font-size="17.3" text-anchor="middle">TNBC</text><text x="531" y="14" class="tt" font-size="17.3">d)</text><text x="619" y="14" class="tt" font-size="17.3" text-anchor="middle">HER2+</text><text x="95.6" y="229.9" class="tt" font-size="17.3" text-anchor="middle">All Subtypes</text><text x="269.7" y="229.9" class="tt" font-size="17.3" text-anchor="middle">ER+/HER2-</text><text x="442.9" y="229.9" class="tt" font-size="17.3" text-anchor="middle">TNBC</text><text x="619" y="229.9" class="tt" font-size="17.3" text-anchor="middle">HER2+</text><text x="95.6" y="438.2" class="tt" font-size="17.3" text-anchor="middle">All Subtypes</text><text x="269.7" y="438.2" class="tt" font-size="17.3" text-anchor="middle">ER+/HER2-</text><text x="442.9" y="438.2" class="tt" font-size="17.3" text-anchor="middle">TNBC</text><text x="619" y="438.2" class="tt" font-size="17.3" text-anchor="middle">HER2+</text>
</svg>
</body></html>
